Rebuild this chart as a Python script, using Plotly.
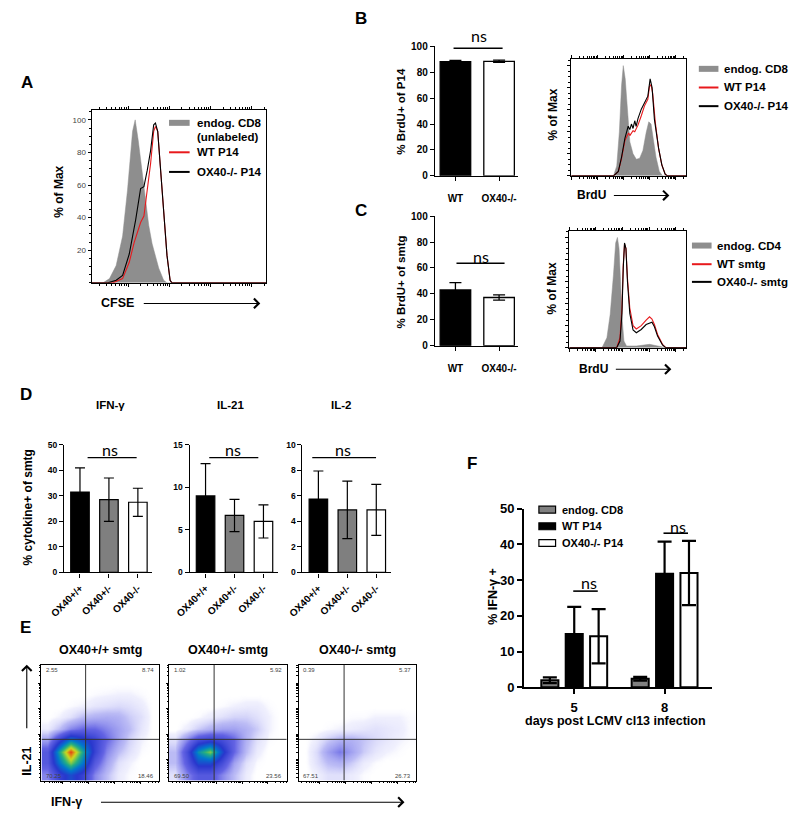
import math
import plotly.graph_objects as go

W, H = 793, 820
FONT = "Liberation Sans"
NS_FONT = "Lato"

# ---------------- data ----------------
# A: CFSE histograms (x = channel 0-100, y = % of max)
A_GRAY_X = [0, 6.6, 10.3, 14.1, 17.8, 20.6, 23.5, 25.0, 26.8, 29.1, 31.0, 32.8, 34.7, 36.6, 38.5, 41.3, 43.2, 100]
A_GRAY_Y = [0, 0, 2.6, 10.6, 28.7, 56.8, 93, 100, 87, 67, 49, 35, 24, 17, 9, 1.6, 0, 0]
A_RED_X = [0, 12.2, 17.8, 21.6, 24.4, 28.1, 30.0, 31.9, 33.8, 35.6, 36.6, 37.9, 39.4, 41.3, 43.2, 45.0, 46.0, 100]
A_RED_Y = [0, 0, 2.6, 12.6, 24.7, 37, 41, 57, 73, 93, 96, 93, 73, 43, 17, 1.6, 0, 0]
A_BLACK_X = [0, 9.4, 14.1, 17.8, 21.6, 25.3, 28.1, 30.0, 31.9, 33.8, 35.6, 36.6, 37.9, 39.4, 41.3, 43.2, 45.0, 46.0, 100]
A_BLACK_Y = [0, 0, 1.6, 4.6, 17.7, 38.8, 57.8, 59, 69, 81, 97, 98, 93, 73, 43, 17, 1.6, 0, 0]

# B: BrdU in P14
B_GROUPS = ["WT", "OX40-/-"]
B_MEAN = [88.2, 88.4]
B_SD = [0.8, 0.9]
B_GRAY_X = [0, 36.8, 39.6, 41.9, 43.8, 45.3, 47.0, 49.0, 51.0, 53.8, 56.7, 59.6, 62.4, 65.2, 67.5, 69.5, 71.5, 73.8, 76.7, 79.5, 100]
B_GRAY_Y = [0, 0, 9, 40, 82, 100, 88, 55, 31, 20, 15, 16, 23, 39, 49, 47, 34, 17, 4, 0, 0]
B_RED_X = [0, 36.8, 41.0, 43.8, 46.7, 48.7, 50.0, 51.0, 53.8, 55.3, 58.1, 61.0, 63.8, 66.7, 68.1, 69.5, 70.9, 73.2, 76.1, 78.9, 81.8, 83.8, 100]
B_RED_Y = [0, 0, 3.9, 15.8, 32, 37, 39, 36.5, 41, 40, 46, 54.5, 63.5, 69.4, 81, 82.7, 75, 48.5, 24.7, 9.8, 1.5, 0, 0]
B_BLACK_X = [0, 36.8, 41.0, 43.8, 46.7, 48.7, 49.6, 51.0, 52.4, 53.8, 55.3, 56.5, 58.1, 61.0, 63.8, 66.7, 68.7, 70.4, 72.4, 76.1, 78.9, 81.8, 83.8, 100]
B_BLACK_Y = [0, 0, 4, 17, 34, 42, 45, 42, 47, 43, 50, 45, 52, 60.5, 66.4, 72.3, 88, 80, 51.5, 25, 10, 1.5, 0, 0]

# C: BrdU in smtg
C_GROUPS = ["WT", "OX40-/-"]
C_MEAN = [43.0, 37.2]
C_SD = [5.6, 2.0]
C_GRAY_X = [0, 28.0, 32.2, 35.0, 37.8, 39.7, 41.2, 42.6, 43.9, 45.4, 46.8, 49.0, 57.4, 68.7, 79.8, 82.6, 100]
C_GRAY_Y = [0, 0, 9, 30, 66, 95, 100, 90, 60, 24, 6, 1.5, 1.5, 3, 0.7, 0, 0]
C_LINE_X = [0, 40.6, 43.4, 45.1, 46.2, 47.3, 48.5, 49.8, 51.8, 54.6, 57.4, 61.6, 65.8, 68.7, 70.8, 72.9, 75.6, 79.8, 82.6, 100]
C_RED_Y = [0, 0, 9, 36, 75, 94, 90, 63, 36, 20, 17, 20, 25, 28, 26, 21, 12, 3, 0, 0]
C_BLACK_Y = [0, 0, 6, 31, 72, 95, 90, 60, 31, 16, 13.5, 16.5, 21, 22.4, 23, 19, 10.5, 2.4, 0, 0]

# D: cytokine+ of smtg
D_GROUPS = ["OX40+/+", "OX40+/-", "OX40-/-"]
IFNG_MEAN = [31.5, 28.5, 27.5]
IFNG_SD = [9.5, 8.5, 5.5]
IL21_MEAN = [9.0, 6.7, 6.0]
IL21_SD = [3.8, 1.9, 1.95]
IL2_MEAN = [5.75, 4.9, 4.9]
IL2_SD = [2.2, 2.25, 2.0]

# E: IL-21 vs IFN-g dot plots (coarse density, rows bottom -> top)
E_TITLES = ["OX40+/+ smtg", "OX40+/- smtg", "OX40-/- smtg"]
E_BINS = [5, 15, 25, 35, 45, 55, 65, 75, 85, 95]
E_GATE_X = [37.5, 38.3, 38.7]
E_GATE_Y = [35.6, 35.6, 35.6]
E_QUAD = [["2.55", "8.74", "70.25", "18.46"],
          ["1.02", "5.92", "69.50", "23.56"],
          ["0.39", "5.37", "67.51", "26.73"]]
E_GRID_1 = [[2, 4, 5, 4, 2, 1, 0.3, 0.1, 0, 0],
            [3, 6, 8, 6, 3, 1.5, 0.5, 0.2, 0, 0],
            [3, 7, 10, 7, 4, 2, 1, 0.5, 0.1, 0],
            [1.5, 4, 6, 5, 4, 2.5, 1.5, 0.7, 0.2, 0],
            [0.3, 1, 2, 2.5, 2.5, 2, 1.5, 1, 0.4, 0],
            [0, 0.2, 0.5, 1, 1.2, 1.3, 1.2, 0.8, 0.5, 0],
            [0, 0, 0.1, 0.2, 0.4, 0.5, 0.6, 0.5, 0.3, 0],
            [0, 0, 0, 0, 0.1, 0.15, 0.2, 0.2, 0.1, 0],
            [0, 0, 0, 0, 0, 0, 0, 0, 0, 0],
            [0, 0, 0, 0, 0, 0, 0, 0, 0, 0]]
E_GRID_2 = [[0.5, 2, 3, 3, 2, 1, 0.3, 0, 0, 0],
            [1, 3, 5, 5, 3.5, 1.5, 0.5, 0.1, 0, 0],
            [1, 3.5, 6.5, 8, 5, 2.5, 1, 0.3, 0, 0],
            [0.5, 2, 3.5, 4, 3.5, 2.5, 1.2, 0.5, 0.1, 0],
            [0, 0.3, 0.8, 1.2, 1.5, 1.5, 1.2, 0.8, 0.2, 0],
            [0, 0, 0.1, 0.3, 0.5, 0.7, 0.7, 0.5, 0.2, 0],
            [0, 0, 0, 0, 0.1, 0.2, 0.3, 0.3, 0.1, 0],
            [0, 0, 0, 0, 0, 0, 0, 0, 0, 0],
            [0, 0, 0, 0, 0, 0, 0, 0, 0, 0],
            [0, 0, 0, 0, 0, 0, 0, 0, 0, 0]]
E_GRID_3 = [[0, 0.2, 0.5, 0.5, 0.3, 0.1, 0, 0, 0, 0],
            [0, 0.5, 1, 1.2, 0.8, 0.3, 0.1, 0, 0, 0],
            [0, 0.6, 1.5, 2.2, 1.5, 0.8, 0.4, 0.2, 0.1, 0],
            [0, 0.3, 0.8, 1.2, 1.2, 0.9, 0.6, 0.4, 0.2, 0.1],
            [0, 0, 0.1, 0.2, 0.3, 0.4, 0.5, 0.4, 0.3, 0.1],
            [0, 0, 0, 0, 0.1, 0.1, 0.2, 0.2, 0.2, 0.1],
            [0, 0, 0, 0, 0, 0, 0, 0, 0, 0],
            [0, 0, 0, 0, 0, 0, 0, 0, 0, 0],
            [0, 0, 0, 0, 0, 0, 0, 0, 0, 0],
            [0, 0, 0, 0, 0, 0, 0, 0, 0, 0]]

# F: IFN-g+ by day
F_DAYS = ["5", "8"]
F_ENDOG = [2.0, 2.4]
F_ENDOG_SD = [0.8, 0.5]
F_WT = [14.9, 31.8]
F_WT_SD = [7.6, 9.0]
F_KO = [14.3, 32.0]
F_KO_SD = [7.6, 9.0]

# ---------------- helpers ----------------
fig = go.Figure()
ann, shp, lay = [], [], {}


def px(x, y):
    return x / W, 1 - y / H


def axkey(n):
    return "" if n == 1 else str(n)


def set_axes(n, box, xa, ya):
    x0, y0, x1, y1 = box
    k = axkey(n)
    lay["xaxis" + k] = dict(domain=[x0 / W, x1 / W], anchor="y" + k, **xa)
    lay["yaxis" + k] = dict(domain=[1 - y1 / H, 1 - y0 / H], anchor="x" + k, **ya)


def txt(x, y, s, size=11, bold=True, angle=0, anchor="center", color="black", family=FONT):
    xx, yy = px(x, y)
    ann.append(dict(x=xx, y=yy, xref="paper", yref="paper", text=s, showarrow=False,
                    textangle=angle, xanchor=anchor, yanchor="middle",
                    font=dict(size=size, family=family, color=color,
                              weight="bold" if bold else "normal")))


def arrow(x0, y0, x1, y1):
    hx, hy = px(x1, y1)
    ann.append(dict(x=hx, y=hy, ax=x0 - x1, ay=y0 - y1, xref="paper", yref="paper",
                    axref="pixel", ayref="pixel", text="", showarrow=True, arrowhead=4,
                    arrowsize=1.7, arrowwidth=1.1, arrowcolor="black"))


def hline(x0, x1, y, color="black", width=1.3):
    a, b = px(x0, y)
    c, _ = px(x1, y)
    shp.append(dict(type="line", xref="paper", yref="paper", x0=a, x1=c, y0=b, y1=b,
                    line=dict(color=color, width=width)))


def ns(x, y, lx0, lx1, ly, size=16, width=1.3):
    txt(x, y, "ns", size=size, bold=False, family=NS_FONT)
    hline(lx0, lx1, ly, width=width)


def log_ticks(start, width, n):
    major, minor = [], []
    for d in range(n):
        b = start + d * width
        major.append(b)
        minor += [b + width * math.log10(k) for k in range(2, 10)]
    return [t for t in major if 0 <= t <= 100], [t for t in minor if 0 <= t <= 100]


BASE = dict(showgrid=False, zeroline=False, linecolor="black", tickcolor="black",
            ticks="outside", fixedrange=True)


def hist_axes(n, box, ylabels, xt):
    maj, mnr = xt
    xa = dict(BASE, range=[0, 100], showline=True, mirror="ticks", linewidth=1, ticklen=3,
              tickmode="array", tickvals=maj, showticklabels=False,
              minor=dict(ticks="outside", ticklen=2, tickmode="array", tickvals=mnr,
                         tickcolor="black"))
    ya = dict(BASE, range=[0, 106], showline=True, mirror=True, linewidth=1, ticklen=3,
              tickmode="array", tickvals=[20, 40, 60, 80, 100] if ylabels else [0, 20, 40, 60, 80, 100],
              showticklabels=ylabels, tickfont=dict(size=8, color="#444", family=FONT),
              minor=dict(ticks="outside", ticklen=2, dtick=5, tickcolor="black"))
    set_axes(n, box, xa, ya)


def bar_axes(n, box, xr, yr, dtick, fs, lw=1.3, angle=0, standoff=2, xfs=None):
    xa = dict(BASE, type="category", range=xr, showline=True, linewidth=lw, tickwidth=lw,
              ticklen=4, tickangle=angle, ticklabelstandoff=standoff,
              tickfont=dict(size=xfs or fs, family=FONT, weight="bold"))
    ya = dict(BASE, range=yr, dtick=dtick, showline=True, linewidth=lw, tickwidth=lw,
              ticklen=4, tickfont=dict(size=fs, family=FONT, weight="bold"))
    set_axes(n, box, xa, ya)


def hist_trace(n, x, y, kind):
    k = axkey(n)
    if kind == "gray":
        tr = go.Scatter(x=x, y=y, mode="lines", fill="tozeroy", fillcolor="#8e8e8e",
                        line=dict(color="#8e8e8e", width=0.5))
    else:
        tr = go.Scatter(x=x, y=y, mode="lines",
                        line=dict(color="#e8191c" if kind == "red" else "black", width=1.1))
    tr.update(xaxis="x" + k, yaxis="y" + k, showlegend=False, hoverinfo="skip")
    fig.add_trace(tr)


def bar_trace(n, cats, vals, sd, colors, width, et=1.3, ew=5, lw=1.3):
    k = axkey(n)
    fig.add_trace(go.Bar(x=cats, y=vals, width=width,
                         marker=dict(color=colors, line=dict(color="black", width=lw)),
                         error_y=dict(type="data", array=sd, color="black", thickness=et, width=ew),
                         xaxis="x" + k, yaxis="y" + k, showlegend=False))


def legend_lines(x0, x1, tx, items, size=11):
    for y, color, w, label in items:
        hline(x0, x1, y, color=color, width=w)
        txt(tx, y, label, size=size, anchor="left")


# ---------------- A ----------------
txt(12, 77, "A", size=17)
hist_axes(1, (78, 105, 256, 281), True, log_ticks(-2.6, 23.6, 5))
hist_trace(1, A_GRAY_X, A_GRAY_Y, "gray")
hist_trace(1, A_RED_X, A_RED_Y, "red")
hist_trace(1, A_BLACK_X, A_BLACK_Y, "black")
txt(44, 188, "% of Max", size=12, angle=-90)
txt(104, 302, "CFSE", size=12.5)
arrow(132, 302, 250, 302)
legend_lines(157, 178, 183, [(118, "#8e8e8e", 6, "endog. CD8"), (148, "#e8191c", 2, "WT P14"),
                             (168, "black", 2, "OX40-/- P14")], size=11.5)
txt(183, 132, "(unlabeled)", size=11.5, anchor="left")

# ---------------- B ----------------
txt(353, 12, "B", size=17)
bar_axes(2, (428, 40, 513, 172), [-0.47, 1.44], [0, 100], 20, 10, standoff=9)
bar_trace(2, B_GROUPS, B_MEAN, B_SD, ["black", "white"], 0.7, ew=6)
txt(393, 106, "% BrdU+ of P14", size=11.5, angle=-90)
ns(473, 29, 447, 497, 42)
hist_axes(3, (567, 53, 684, 172), False, log_ticks(0, 22.8, 5))
hist_trace(3, B_GRAY_X, B_GRAY_Y, "gray")
hist_trace(3, B_RED_X, B_RED_Y, "red")
hist_trace(3, B_BLACK_X, B_BLACK_Y, "black")
txt(548, 110, "% of Max", size=12, angle=-90)
txt(588, 192, "BrdU", size=12)
arrow(610, 192, 667, 192)
legend_lines(697, 717, 721, [(63, "#8e8e8e", 6, "endog. CD8"), (82, "#e8191c", 2, "WT P14"),
                             (101, "black", 2, "OX40-/- P14")], size=11.5)

# ---------------- C ----------------
txt(353, 207, "C", size=17)
bar_axes(4, (428, 213, 513, 345), [-0.47, 1.44], [0, 100], 20, 10, standoff=9)
bar_trace(4, C_GROUPS, C_MEAN, C_SD, ["black", "white"], 0.7, ew=6)
txt(393, 280, "% BrdU+ of smtg", size=11.5, angle=-90)
ns(475, 254, 450, 499, 261)
hist_axes(5, (565, 228, 684, 347), False, log_ticks(0, 22.8, 5))
hist_trace(5, C_GRAY_X, C_GRAY_Y, "gray")
hist_trace(5, C_LINE_X, C_RED_Y, "red")
hist_trace(5, C_LINE_X, C_BLACK_Y, "black")
txt(547, 287, "% of Max", size=12, angle=-90)
txt(590, 369, "BrdU", size=12)
arrow(612, 369, 669, 369)
legend_lines(690, 710, 714, [(243, "#8e8e8e", 6, "endog. CD4"), (262, "#e8191c", 2, "WT smtg"),
                             (280, "black", 2, "OX40-/- smtg")], size=11.5)

# ---------------- D ----------------
txt(11, 395, "D", size=17)
txt(13, 510, "% cytokine+ of smtg", size=12, angle=-90)
D_COLORS = ["black", "#7f7f7f", "white"]
for n, box, yr, dt, mean, sd, title, tx, nsx, (l0, l1) in [
    (6, (50, 446, 140, 576), [0, 50], 10, IFNG_MEAN, IFNG_SD, "IFN-γ", 97, 97, (74, 124)),
    (7, (178, 446, 268, 576), [0, 15], 5, IL21_MEAN, IL21_SD, "IL-21", 220, 222, (198, 248)),
    (8, (293, 446, 383, 576), [0, 10], 2, IL2_MEAN, IL2_SD, "IL-2", 332, 334, (303, 368)),
]:
    bar_axes(n, box, [-0.55, 2.5], yr, dt, 8.5, lw=1.2, angle=-45, standoff=1, xfs=10)
    bar_trace(n, D_GROUPS, mean, sd, D_COLORS, 0.64, et=1.2, ew=5, lw=1.2)
    txt(tx, 405, title, size=11.5)
    ns(nsx, 451, l0, l1, 459, size=16)

# ---------------- E ----------------
txt(11, 632, "E", size=17)
DOT_CS = [[0, "rgba(255,255,255,0)"], [0.02, "rgba(205,205,250,0.3)"], [0.1, "rgba(150,150,240,0.65)"],
          [0.25, "rgb(100,100,228)"], [0.45, "rgb(40,55,205)"], [0.6, "rgb(0,120,205)"],
          [0.72, "rgb(35,175,130)"], [0.86, "rgb(205,220,30)"], [1, "rgb(232,60,20)"]]
E_BOXES = [(27, 670, 147, 788), (157, 670, 277, 788), (289, 670, 409, 788)]
xt_e = log_ticks(-4, 22, 6)
for i, grid in enumerate([E_GRID_1, E_GRID_2, E_GRID_3]):
    n = 9 + i
    k = axkey(n)
    x0, y0, x1, y1 = E_BOXES[i]
    ax = dict(BASE, range=[0, 100], showline=True, mirror=True, linewidth=1, ticklen=2,
              tickmode="array", tickvals=xt_e[0], showticklabels=False,
              minor=dict(ticks="outside", ticklen=1.5, tickmode="array", tickvals=xt_e[1],
                         tickcolor="black"))
    set_axes(n, E_BOXES[i], ax, dict(ax))
    fig.add_trace(go.Heatmap(x=E_BINS, y=E_BINS, z=grid, zmin=0, zmax=10, colorscale=DOT_CS,
                             zsmooth="best", showscale=False, hoverinfo="skip",
                             xaxis="x" + k, yaxis="y" + k))
    gx, gy = E_GATE_X[i], E_GATE_Y[i]
    shp.append(dict(type="line", xref="x" + k, yref="y" + k, x0=gx, x1=gx, y0=0, y1=100,
                    line=dict(color="#333", width=1)))
    shp.append(dict(type="line", xref="x" + k, yref="y" + k, x0=0, x1=100, y0=gy, y1=gy,
                    line=dict(color="#333", width=1)))
    q = E_QUAD[i]
    for (qx, qy, anc), s in zip([(x0 + 3, y0 + 5, "left"), (x1 - 3, y0 + 5, "right"),
                                 (x0 + 3, y1 - 5, "left"), (x1 - 3, y1 - 5, "right")], q):
        txt(qx, qy, s, size=6, bold=False, anchor=anc, color="#444")
    txt((x0 + x1) / 2, 655, E_TITLES[i], size=12.5)
txt(12, 768, "IL-21", size=12.5, angle=-90)
arrow(12, 735, 12, 670)
txt(52, 810, "IFN-γ", size=12.5)
arrow(92, 810, 397, 810)

# ---------------- F ----------------
txt(466, 465, "F", size=17)
xa = dict(BASE, type="category", range=[-0.554, 1.52], showline=True, linewidth=2, tickwidth=2,
          ticklen=5, ticklabelstandoff=2, tickfont=dict(size=13, family=FONT, weight="bold"))
ya = dict(BASE, range=[0, 50], dtick=10, showline=True, linewidth=2, tickwidth=2, ticklen=5,
          tickfont=dict(size=13, family=FONT, weight="bold"))
set_axes(12, (519, 511, 710, 693), xa, ya)
for vals, sd, color in [(F_ENDOG, F_ENDOG_SD, "#808080"), (F_WT, F_WT_SD, "black"),
                        (F_KO, F_KO_SD, "white")]:
    fig.add_trace(go.Bar(x=F_DAYS, y=vals, marker=dict(color=color, line=dict(color="black", width=2)),
                         error_y=dict(type="data", array=sd, color="black", thickness=2.2, width=7),
                         xaxis="x12", yaxis="y12", showlegend=False))
txt(612, 727, "days post LCMV cl13 infection", size=12.5)
txt(487, 600, "% IFN-γ +", size=12.5, angle=-90)
ns(585, 586, 569, 594, 595, size=16, width=1.6)
ns(676, 529, 661, 686, 536, size=16, width=1.6)
for y, color, label in [(512, "#808080", "endog. CD8"), (529, "black", "WT P14"),
                        (546, "white", "OX40-/- P14")]:
    a, b = px(534, y - 3.5)
    c, d = px(551, y + 3.5)
    shp.append(dict(type="rect", xref="paper", yref="paper", x0=a, x1=c, y0=b, y1=d,
                    fillcolor=color, line=dict(color="black", width=1.2)))
    txt(555, y, label, size=11, anchor="left")

fig.update_layout(width=W, height=H, margin=dict(l=0, r=0, t=0, b=0),
                  paper_bgcolor="white", plot_bgcolor="white",
                  font=dict(family=FONT, color="black"),
                  barmode="group", bargap=0.19, bargroupgap=0.3,
                  annotations=ann, shapes=shp, **lay)
fig.write_html("out.html", config={"displayModeBar": False},
               post_script="document.body.style.margin='0';document.body.style.overflow='hidden';")
